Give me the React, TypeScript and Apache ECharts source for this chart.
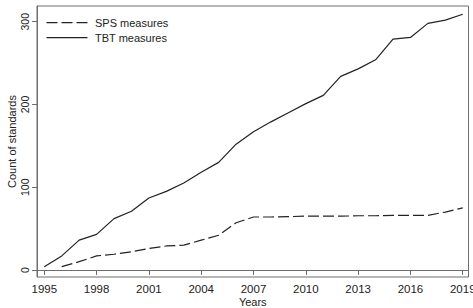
import React, { useEffect, useRef } from "react";
import * as echarts from "echarts";

const years = [1995, 1996, 1997, 1998, 1999, 2000, 2001, 2002, 2003, 2004, 2005, 2006, 2007, 2008, 2009, 2010, 2011, 2012, 2013, 2014, 2015, 2016, 2017, 2018, 2019];
const tbtValues = [4, 17, 36, 43, 62, 71, 87, 95, 105, 118, 130, 152, 167, 179, 190, 201, 211, 234, 243, 254, 279, 281, 298, 302, 309];
const spsValues = [null, 4, 10, 17, 19, 22, 26, 29, 30, 36, 42, 57, 64, 64, 64.5, 65, 65, 65, 65.5, 65.5, 66, 66, 66, 70, 75];
const xTicks = [1995, 1998, 2001, 2004, 2007, 2010, 2013, 2016, 2019];
const yTicks = [0, 100, 200, 300];
const seriesNames = ["SPS measures", "TBT measures"];

const FONT = "Liberation Sans";
const INK = "#222222";
const FRAME = "#6e6e6e";
const DASH = [11, 4];

export default function App() {
  const ref = useRef<HTMLDivElement>(null);
  useEffect(() => {
    if (!ref.current) return;
    const chart = echarts.init(ref.current, null, { renderer: "svg" });
    const pairs = (vals: (number | null)[]) =>
      years.map((y, i) => [y, vals[i]]).filter((p) => p[1] !== null);
    const legendItems = seriesNames.map((name, i) => {
      const cy = 22.7 + i * 15;
      return {
        type: "group",
        children: [
          {
            type: "line",
            shape: { x1: 46.5, y1: cy, x2: 87.5, y2: cy },
            style: { stroke: INK, lineWidth: 1.2, lineDash: i === 0 ? DASH : null },
          },
          {
            type: "text",
            x: 95,
            y: cy,
            style: { text: name, fontFamily: FONT, fontSize: 11, fill: INK, verticalAlign: "middle", align: "left" },
          },
        ],
      };
    });
    chart.setOption({
      animation: false,
      backgroundColor: "#ffffff",
      textStyle: { fontFamily: FONT, color: INK },
      grid: {
        left: 37,
        right: 4.5,
        top: 6,
        bottom: 31,
        containLabel: false,
        outerBoundsMode: "none",
        show: true,
        borderColor: FRAME,
        borderWidth: 1,
        backgroundColor: "transparent",
      },
      graphic: legendItems,
      xAxis: {
        type: "value",
        min: 1994.582,
        max: 2019.33,
        name: "Years",
        nameLocation: "middle",
        nameGap: 19.5,
        nameMoveOverlap: false,
        nameTextStyle: { fontFamily: FONT, fontSize: 11, color: INK },
        axisLine: { show: true, lineStyle: { color: FRAME, width: 1 } },
        axisTick: { show: true, length: 5, lineStyle: { color: FRAME }, customValues: xTicks },
        axisLabel: { customValues: xTicks, fontFamily: FONT, fontSize: 11.5, color: INK, margin: 6, formatter: (v: number) => String(v) },
        splitLine: { show: false },
      },
      yAxis: {
        type: "value",
        min: -8.5,
        max: 319,
        name: "Count of standards",
        nameLocation: "middle",
        nameGap: 19.5,
        nameMoveOverlap: false,
        nameTextStyle: { fontFamily: FONT, fontSize: 11, color: INK },
        axisLine: { show: true, lineStyle: { color: FRAME, width: 1 } },
        axisTick: { show: true, length: 5, lineStyle: { color: FRAME }, customValues: yTicks },
        axisLabel: { customValues: yTicks, rotate: 90, fontFamily: FONT, fontSize: 10.5, color: INK, margin: 7 },
        splitLine: { show: false },
      },
      series: [
        {
          name: seriesNames[0],
          type: "line",
          data: pairs(spsValues),
          symbol: "none",
          showSymbol: false,
          lineStyle: { color: INK, width: 1.2, type: DASH },
          itemStyle: { color: INK },
        },
        {
          name: seriesNames[1],
          type: "line",
          data: pairs(tbtValues),
          symbol: "none",
          showSymbol: false,
          lineStyle: { color: INK, width: 1.2 },
          itemStyle: { color: INK },
        },
      ],
    });
    return () => chart.dispose();
  }, []);
  return <div ref={ref} style={{ position: "absolute", left: 0, top: 0, width: 473, height: 308 }} />;
}
